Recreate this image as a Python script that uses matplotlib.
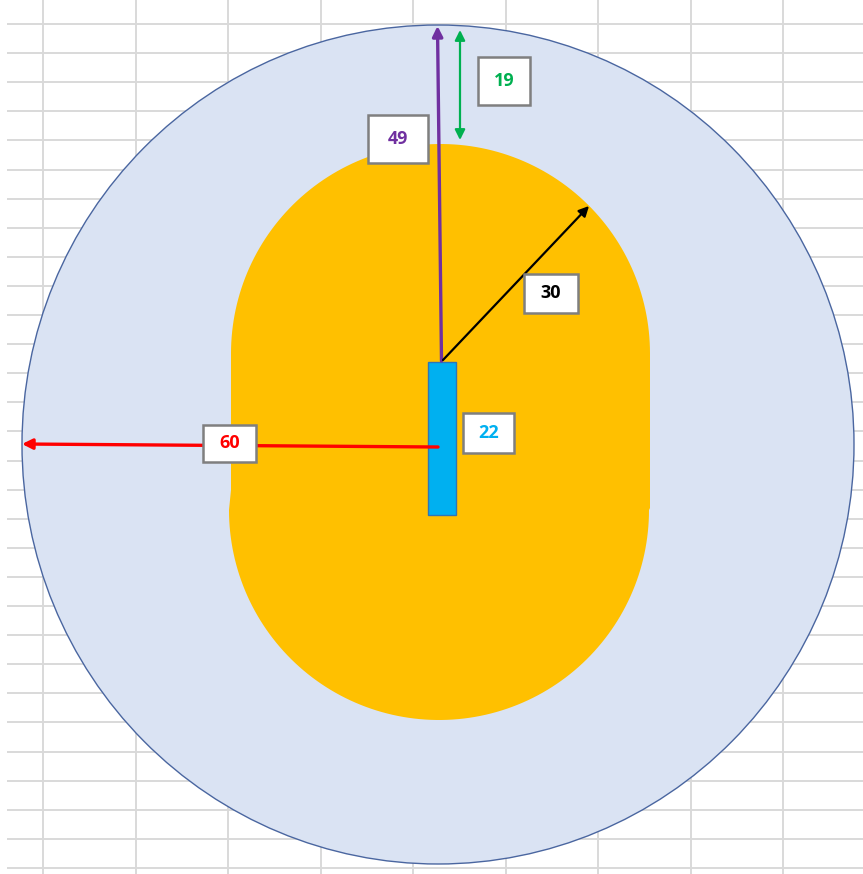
import numpy as np
import matplotlib.pyplot as plt
from matplotlib.patches import Ellipse, Rectangle, Polygon, FancyArrowPatch

# label values and their colours
values = [19, 49, 30, 22, 60]
colors = ['#00B050', '#7030A0', '#000000', '#00B0F0', '#FF0000']

W, H = 863, 874
fig = plt.figure(figsize=(W / 100, H / 100), dpi=100)
ax = fig.add_axes([0, 0, 1, 1])
ax.set_xlim(0, W)
ax.set_ylim(H, 0)
ax.axis('off')

# spreadsheet grid
grid_c = '#D9D9D9'
for x in np.arange(43, W, 92.5):
    ax.plot([x, x], [0, H], color=grid_c, lw=1.4, zorder=0)
for y in np.arange(24, H, 29.1):
    ax.plot([8, W], [y, y], color=grid_c, lw=1.4, zorder=0)

# outer boundary
ax.add_patch(Ellipse((438, 444.5), 832, 839, facecolor='#DAE3F3',
                     edgecolor='#4A66A0', lw=1.0, zorder=1))

# stadium shape: upper half disc, straight sides, lower half disc
t = np.linspace(0, np.pi, 120)
upper = np.column_stack([440.5 + 209.5 * np.cos(t), 353.5 - 209.5 * np.sin(t)])
lower = np.column_stack([439 - 210 * np.cos(t), 510 + 210 * np.sin(t)])
pts = np.vstack([upper, [[231, 490]], lower, [[650, 508]]])
ax.add_patch(Polygon(pts, closed=True, facecolor='#FFC000', edgecolor='none', zorder=2))

# pitch
ax.add_patch(Rectangle((427.5, 361.5), 28, 153.5, facecolor='#00B0F0',
                       edgecolor='#2E75B6', lw=1.0, zorder=3))


def arrow(p0, p1, color, lw, style='-|>'):
    a = FancyArrowPatch(p0, p1, arrowstyle=style, mutation_scale=15, color=color,
                        lw=lw, shrinkA=0, shrinkB=0, zorder=4)
    ax.add_patch(a)


arrow((441.5, 361), (437.5, 26), colors[1], 2.4)
arrow((460, 30), (460, 140), colors[0], 1.6, style='<|-|>')
arrow((443, 360), (589, 206), colors[2], 1.6)
arrow((438, 447), (22, 444), colors[4], 2.4)

# label boxes
boxes = [(478, 57, 52, 48), (368, 115, 60, 48), (524, 274, 54, 39),
         (463, 413, 51, 40), (203, 425, 53, 37)]
for v, c, (x, y, w, h) in zip(values, colors, boxes):
    ax.add_patch(Rectangle((x, y), w, h, facecolor='white', edgecolor='#7F7F7F',
                           lw=1.8, zorder=5))
    ax.text(x + w / 2, y + h / 2, str(v), color=c, fontsize=13, fontweight='bold',
            family='Open Sans', ha='center', va='center', zorder=6)

fig.savefig('out.png', dpi=100)
